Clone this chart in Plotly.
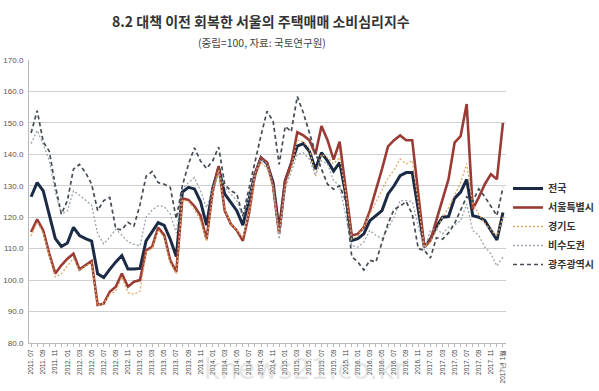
import plotly.graph_objects as go

# ---- data ----
months = []
for y in range(2011, 2018):
    for m in range(1, 13):
        if y == 2011 and m < 7:
            continue
        months.append(f"{y}. {m:02d}")
months.append("2017년 1월")

nation = [126.5, 131, 128.4, 121, 113.2, 110.7, 111.8, 116.8, 114.2, 113.2, 112.4, 102, 100.8, 103.4, 105.8, 107.8,
          103.5, 103.5, 103.7, 112.5, 115.6, 118.3, 117.4, 113, 107.5, 128, 129.5, 129, 125, 117.5, 129, 135.8,
          127.4, 124.7, 122.1, 117.5, 125.3, 133.7, 138.9, 137, 131, 115.8, 131.6, 136.8, 142.6, 143.4, 141, 135.3,
          140.5, 137.9, 134.7, 137.4, 127.4, 112.6, 113.2, 114.7, 118.9, 120.5, 122.1, 127.4, 130, 133.2, 134.2,
          134.2, 122, 110.5, 113, 117, 120, 120.2, 126, 128, 132, 120.5, 120, 119, 115.8, 112.8, 121.5]
seoul = [115.3, 119.3, 115.8, 108.4, 102.1, 104.7, 106.8, 108.4, 103.4, 104.7, 106.1, 92.1, 92.5, 96.3, 97.9, 102.1,
         97.9, 99.5, 100, 109.5, 110.6, 116.7, 114.3, 106.3, 102.6, 126, 125.5, 123.5, 120.5, 113, 128, 136.3,
         122.1, 117.9, 115.8, 112.5, 121, 133.7, 138.9, 137.5, 130, 114.7, 131.6, 137, 147, 146, 144.5, 140,
         149, 144.5, 138.3, 144, 129.5, 114.2, 114.7, 116.8, 122.1, 128.4, 135.3, 142.5, 144.5, 146, 144.5,
         144.5, 127, 110.5, 112.6, 118.9, 125.3, 132.1, 143.7, 145.8, 156, 122.6, 126.3, 130.5, 133.7, 132.1, 150]
gyeonggi = [114, 118.5, 115, 108, 101, 102, 104.5, 107, 103, 104.5, 105.5, 92, 92.5, 95.5, 96.5, 101,
            96, 95.5, 96.5, 109, 110, 116, 113.5, 105.5, 102, 125.5, 125, 122.5, 119, 112.5, 127, 135,
            122.5, 118, 116, 113.5, 121, 132, 137.5, 135.5, 129, 114.5, 130, 135.5, 144.5, 144, 142, 133,
            140, 139, 137, 139, 128, 113, 114, 117, 121, 125, 129, 132.5, 135, 138.5, 137,
            138, 124.5, 110.5, 112, 116, 120, 123, 127, 131, 137, 124, 121, 118, 116, 114, 120]
noncap = [143.4, 147.6, 143.2, 138, 128, 121, 122, 128.4, 127, 125.5, 123.8, 114.7, 111.5, 113.6, 116.2, 114.3,
          112.2, 111.4, 110.9, 120, 122.3, 123.6, 123.4, 121, 115, 129, 131, 132.6, 128.4, 123, 129, 134,
          129.5, 127.4, 125.3, 120, 126, 134, 138.4, 137, 130, 113, 129, 134.5, 140, 140.5, 138.4, 133.5,
          137.9, 137, 131.6, 130, 121, 111, 110.5, 112.1, 115.8, 114.2, 113.2, 116.8, 120, 125.3, 125.3,
          125, 117, 109.5, 115.8, 116.3, 114.7, 116.8, 117.5, 118.9, 124.2, 115.8, 114.2, 110.5, 108.4, 104.5, 107.4]
gwangju = [146.8, 153.9, 144, 141, 130, 121, 125.3, 135.3, 136.8, 134.2, 130.5, 122.1, 125.3, 126.3, 116.3, 116,
           118.4, 117.2, 124, 133, 134.5, 131, 130.5, 129.5, 119.5, 130, 136.8, 142.1, 137.9, 135.5, 137.9, 142.3,
           130.5, 128.4, 127.4, 120.5, 129, 138, 146, 153.7, 150.5, 136.8, 148.9, 147.2, 158.4, 153.2, 146.8, 140.5,
           135.3, 130.5, 128.9, 130, 125.3, 107.4, 105.8, 103.2, 106.3, 105.8, 112, 118, 122.5, 123.5, 125,
           121, 110, 109.5, 107, 113.5, 113, 115, 118, 122.5, 126.5, 125, 129, 126.5, 123.5, 120.5, 129.5]

series_names = ["전국", "서울특별시", "경기도", "비수도권", "광주광역시"]
y_ticks = [80, 90, 100, 110, 120, 130, 140, 150, 160, 170]

title_text = "8.2 대책 이전 회복한 서울의 주택매매 소비심리지수"
subtitle_text = "(중립=100, 자료: 국토연구원)"

# ---- figure ----
FONT = "Noto Sans CJK KR"
W, H = 599, 391
L, R, T, B = 29, 93, 60, 48
PW, PH = W - L - R, H - T - B
xidx = list(range(len(months)))

styles = [
    dict(color="#1c2b45", width=3, dash="solid"),
    dict(color="#9a3b35", width=2.6, dash="solid"),
    dict(color="#e0a860", width=1.3, dash="2px,2px"),
    dict(color="#9aa4ae", width=1.3, dash="2px,2px"),
    dict(color="#454c55", width=1.7, dash="4px,3px"),
]
data = [nation, seoul, gyeonggi, noncap, gwangju]

fig = go.Figure()
for name, vals, st in zip(series_names, data, styles):
    fig.add_trace(go.Scatter(x=xidx, y=vals, mode="lines", name=name, line=st))

fig.update_layout(
    width=W, height=H,
    margin=dict(l=L, r=R, t=T, b=B, autoexpand=False),
    paper_bgcolor="white", plot_bgcolor="white",
    font=dict(family=FONT, color="#333"),
    showlegend=True,
    legend=dict(x=(508 - L) / PW, y=(H - B - 174) / PH, xanchor="left", yanchor="top",
                font=dict(size=10, family=FONT, color="#333", weight="bold"),
                tracegroupgap=0, bgcolor="rgba(0,0,0,0)", itemwidth=30),
)
fig.update_yaxes(range=[80, 170], tickvals=y_ticks,
                 ticktext=[f"{v:.1f}" for v in y_ticks],
                 tickfont=dict(size=8, color="#555", family="Liberation Sans"),
                 showgrid=True, gridcolor="#cfcfcf", gridwidth=1,
                 showline=True, linecolor="#b8b8b8", linewidth=1,
                 zeroline=False, ticks="", ticklabelstandoff=3)
fig.update_xaxes(range=[-0.35, len(months) - 0.5],
                 tickvals=xidx[::2], ticktext=months[::2], tickangle=-90,
                 tickfont=dict(size=6.5, color="#444", family="Liberation Sans"),
                 showgrid=False, showline=True, linecolor="#b8b8b8", linewidth=1,
                 ticks="outside", ticklen=3, tickcolor="#b8b8b8",
                 minor=dict(dtick=1, tick0=0, ticks="outside", ticklen=3, tickcolor="#b8b8b8"),
                 zeroline=False)

fig.update_layout(annotations=[
    dict(text=f"<b>{title_text}</b>", x=(261 - L) / PW, y=1 + (T - 21) / PH,
         xref="paper", yref="paper", showarrow=False, xanchor="center", yanchor="middle",
         font=dict(size=14, family=FONT, color="#333")),
    dict(text=subtitle_text, x=(262 - L) / PW, y=1 + (T - 42) / PH,
         xref="paper", yref="paper", showarrow=False, xanchor="center", yanchor="middle",
         font=dict(size=10.5, family=FONT, color="#444")),
    dict(text="knews21.co.kr", x=(305 - L) / PW, y=-(369 - (H - B)) / PH,
         xref="paper", yref="paper", showarrow=False, xanchor="center", yanchor="middle",
         font=dict(size=28, family="DejaVu Sans", color="rgba(190,190,190,0.4)")),
])

fig.write_html("out.html", config={"displayModeBar": False},
               post_script="document.body.style.margin='0';document.body.style.overflow='hidden';")
